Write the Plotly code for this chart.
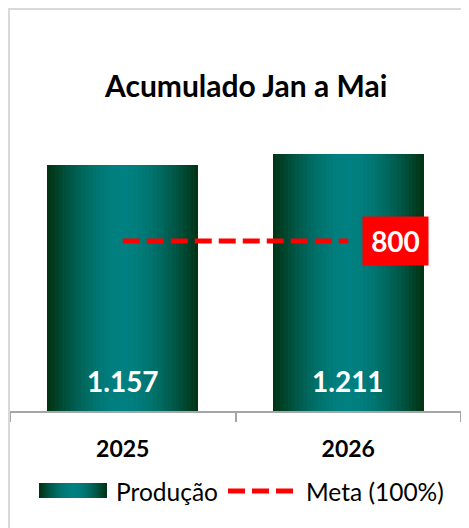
import math
import plotly.graph_objects as go

# Data
anos = ['2025', '2026']
producao = [1157, 1211]
meta = [800, 800]
meta_label = '800'
titulo = 'Acumulado Jan a Mai'
legenda = ['Produção', 'Meta (100%)']

#################################################################
# Helpers
# the page body has an 8px margin, so the figure is a bit smaller and
# every reference pixel is shifted by OFF

OFF = 8
W, H = 469 - OFF, 528 - OFF
ML, MR, MT, MB = 10 - OFF, 8, 71 - OFF, 117
PW = W - ML - MR
PH = H - MT - MB
FONT = 'Lato'


def px_x(px):
    return (px - OFF - ML) / PW


def px_y(py):
    return (H - MB - (py - OFF)) / PH


dark = (0, 50, 18)
teal = (0, 128, 128)


def grad(t):
    # dark -> teal -> dark
    s = math.sin(math.pi * t)
    c = [round(dark[k] + (teal[k] - dark[k]) * s) for k in range(3)]
    return f'rgb({c[0]},{c[1]},{c[2]})'


def fmt(v):
    return f'{v:,}'.replace(',', '.')


#################################################################
# Bars: drawn as thin overlaid slices to fake the horizontal gradient

fig = go.Figure()

bar_w = 0.67
n = 40
dw = bar_w / n
for i in range(n):
    w = dw * 1.6 if i < n - 1 else dw
    fig.add_trace(go.Bar(
        x=anos,
        y=producao,
        width=w,
        offset=-bar_w / 2 + i * dw,
        marker=dict(color=grad((i + 0.5) / n), line=dict(width=0)),
        showlegend=False,
        hoverinfo='skip'
    ))

fig.add_trace(go.Scatter(
    x=anos,
    y=meta,
    mode='lines',
    line=dict(color='#ff0000', width=5, dash='17px,7px'),
    showlegend=False
))

# value labels inside the bars (x given as category index)
for i, v in enumerate(producao):
    fig.add_annotation(x=i, y=0, text=fmt(v), showarrow=False,
                       yanchor='middle', yshift=30,
                       font=dict(family=FONT, size=28, color='white', weight='bold'))

# meta label box
fig.add_annotation(x=len(anos) - 1, y=meta[-1], text=meta_label, showarrow=False,
                   xshift=47, width=65, height=48, borderpad=0,
                   bgcolor='#ff0000',
                   font=dict(family=FONT, size=28, color='white', weight='bold'))

# title
fig.add_annotation(x=px_x(245), y=px_y(85), xref='paper', yref='paper',
                   text=titulo, showarrow=False, yanchor='middle',
                   font=dict(family=FONT, size=30, color='black', weight='bold'))

#################################################################
# Legend built by hand (wide gradient swatch + dashed line)

shapes = []
sx0, sx1 = 39, 107
for i in range(n):
    a = sx0 + (sx1 - sx0) * i / n
    b = sx0 + (sx1 - sx0) * (i + 1.6) / n if i < n - 1 else sx1
    shapes.append(dict(type='rect', xref='paper', yref='paper',
                       x0=px_x(a), x1=px_x(b), y0=px_y(498), y1=px_y(483),
                       fillcolor=grad((i + 0.5) / n), line=dict(width=0)))
shapes.append(dict(type='line', xref='paper', yref='paper',
                   x0=px_x(228), x1=px_x(293), y0=px_y(491), y1=px_y(491),
                   line=dict(color='#ff0000', width=5, dash='17px,7px')))
# chart border
shapes.append(dict(type='rect', xref='paper', yref='paper',
                   x0=px_x(9), x1=px_x(468), y0=px_y(540), y1=px_y(9),
                   line=dict(color='#d9d9d9', width=2)))

fig.add_annotation(x=px_x(114), y=px_y(491), xref='paper', yref='paper',
                   text=legenda[0], showarrow=False, xanchor='left', yanchor='middle',
                   font=dict(family=FONT, size=24.5, color='black'))
fig.add_annotation(x=px_x(304), y=px_y(491), xref='paper', yref='paper',
                   text=legenda[1], showarrow=False, xanchor='left', yanchor='middle',
                   font=dict(family=FONT, size=24.5, color='black'))

fig.update_layout(
    width=W, height=H,
    margin=dict(l=ML, r=MR, t=MT, b=MB),
    template='none',
    barmode='overlay',
    bargap=0,
    plot_bgcolor='white',
    paper_bgcolor='white',
    showlegend=False,
    shapes=shapes,
    font=dict(family=FONT)
)
fig.update_xaxes(type='category', range=[-0.5, 1.5], automargin=False,
                 showline=True, linecolor='#a6a6a6', linewidth=1.5,
                 ticks='outside', tickson='boundaries', ticklen=9,
                 tickcolor='#a6a6a6', tickwidth=1.5, showgrid=False,
                 tickangle=0, ticklabelstandoff=17,
                 tickfont=dict(family=FONT, size=23, color='black', weight='bold'))
fig.update_yaxes(visible=False, range=[0, 1600], automargin=False)

fig.write_html("out.html")
